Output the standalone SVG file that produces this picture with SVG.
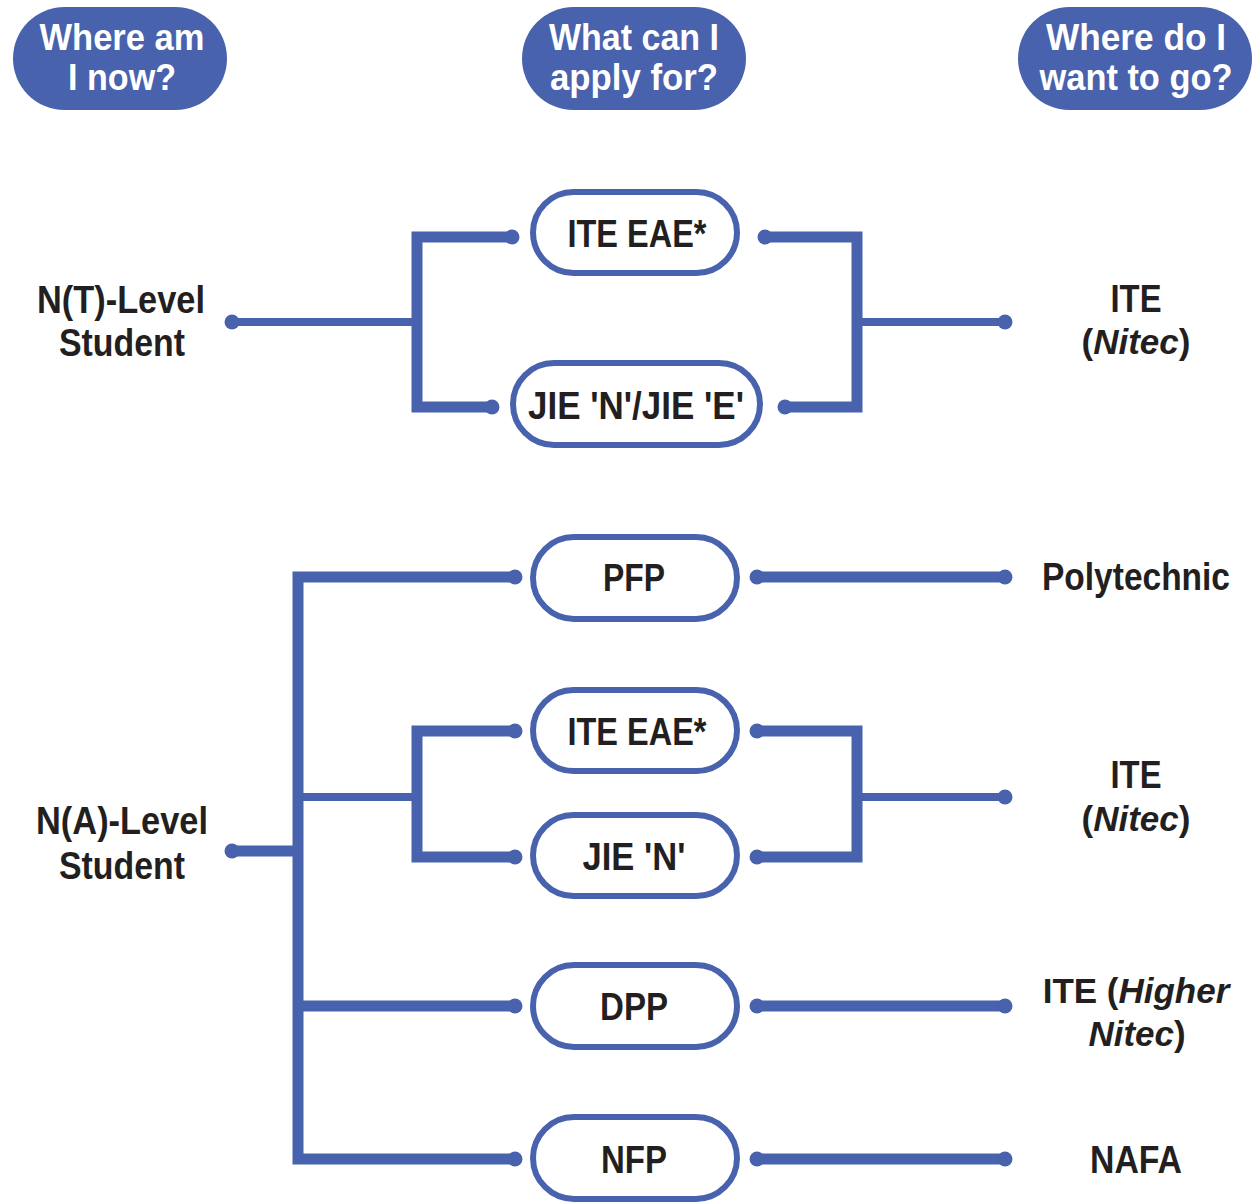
<svg xmlns="http://www.w3.org/2000/svg" width="1257" height="1202" viewBox="0 0 1257 1202">
<style>
.hdr{fill:#4862ad}
.ht{font-family:"Liberation Sans",Arial,sans-serif;font-weight:bold;font-size:36px;fill:#fff;text-anchor:middle}
.pill{fill:#fff;stroke:#4862ad;stroke-width:6}
.pt{font-family:"Liberation Sans",Arial,sans-serif;font-weight:bold;font-size:38px;fill:#231f20;text-anchor:middle}
.lt{font-family:"Liberation Sans",Arial,sans-serif;font-weight:bold;font-size:38px;fill:#231f20;text-anchor:middle}
.ls{font-family:"Liberation Sans",Arial,sans-serif;font-weight:bold;font-size:35px;fill:#231f20;text-anchor:middle}
.it{font-style:italic}
.br{fill:none;stroke:#4862ad;stroke-width:11;stroke-linejoin:miter;stroke-linecap:butt}
.th{fill:none;stroke:#4862ad;stroke-width:8;stroke-linecap:butt}
.dot{fill:#4862ad}
</style>
<rect width="1257" height="1202" fill="#fff"/>

<g id="headers">
<g id="h1"><rect class="hdr" x="13" y="7" width="214" height="103" rx="51.5"/>
<text class="ht" x="122" y="50" textLength="165" lengthAdjust="spacingAndGlyphs">Where am</text>
<text class="ht" x="122" y="90" textLength="108" lengthAdjust="spacingAndGlyphs">I now?</text></g>
<g id="h2"><rect class="hdr" x="522" y="7" width="224" height="103" rx="51.5"/>
<text class="ht" x="634" y="50" textLength="170" lengthAdjust="spacingAndGlyphs">What can I</text>
<text class="ht" x="634" y="90" textLength="168" lengthAdjust="spacingAndGlyphs">apply for?</text></g>
<g id="h3"><rect class="hdr" x="1018" y="7" width="234" height="103" rx="51.5"/>
<text class="ht" x="1136" y="50" textLength="180" lengthAdjust="spacingAndGlyphs">Where do I</text>
<text class="ht" x="1136" y="90" textLength="193" lengthAdjust="spacingAndGlyphs">want to go?</text></g>
</g>

<g id="connectors">
<line class="th" x1="232" y1="322" x2="417" y2="322"/>
<path class="br" d="M512,237 H417 V407 H492"/>
<path class="br" d="M765,237 H857 V407 H785"/>
<line class="th" x1="857" y1="322" x2="1005" y2="322"/>

<line class="br" x1="232" y1="851" x2="298" y2="851"/>
<path class="br" d="M515,577 H298 V1159 H515"/>
<line class="br" x1="298" y1="1006" x2="515" y2="1006"/>
<line class="th" x1="298" y1="797" x2="417" y2="797"/>
<path class="br" d="M515,731 H417 V857 H515"/>
<line class="br" x1="757" y1="577" x2="1005" y2="577"/>
<path class="br" d="M757,731 H857 V857 H757"/>
<line class="th" x1="857" y1="797" x2="1005" y2="797"/>
<line class="br" x1="757" y1="1006" x2="1005" y2="1006"/>
<line class="br" x1="757" y1="1159" x2="1005" y2="1159"/>

<g class="dot">
<circle cx="232" cy="322" r="7.5"/><circle cx="512" cy="237" r="7.5"/><circle cx="492" cy="407" r="7.5"/>
<circle cx="765" cy="237" r="7.5"/><circle cx="785" cy="407" r="7.5"/><circle cx="1005" cy="322" r="7.5"/>
<circle cx="232" cy="851" r="7.5"/>
<circle cx="515" cy="577" r="7.5"/><circle cx="515" cy="731" r="7.5"/><circle cx="515" cy="857" r="7.5"/><circle cx="515" cy="1006" r="7.5"/><circle cx="515" cy="1159" r="7.5"/>
<circle cx="757" cy="577" r="7.5"/><circle cx="757" cy="731" r="7.5"/><circle cx="757" cy="857" r="7.5"/><circle cx="757" cy="1006" r="7.5"/><circle cx="757" cy="1159" r="7.5"/>
<circle cx="1005" cy="577" r="7.5"/><circle cx="1005" cy="797" r="7.5"/><circle cx="1005" cy="1006" r="7.5"/><circle cx="1005" cy="1159" r="7.5"/>
</g>
</g>

<g id="nt-student"><text class="lt" x="121" y="313" textLength="168" lengthAdjust="spacingAndGlyphs">N(T)-Level</text>
<text class="lt" x="122" y="356" textLength="126" lengthAdjust="spacingAndGlyphs">Student</text></g>

<g id="na-student"><text class="lt" x="122" y="834" textLength="172" lengthAdjust="spacingAndGlyphs">N(A)-Level</text>
<text class="lt" x="122" y="879" textLength="126" lengthAdjust="spacingAndGlyphs">Student</text></g>

<g id="ite-eae-1"><rect class="pill" x="533" y="192" width="204" height="81" rx="40.5"/>
<text class="pt" x="637" y="247" textLength="139" lengthAdjust="spacingAndGlyphs">ITE EAE*</text></g>
<g id="jie-ne"><rect class="pill" x="513" y="363" width="247" height="82" rx="41"/>
<text class="pt" x="636" y="419" textLength="216" lengthAdjust="spacingAndGlyphs">JIE 'N'/JIE 'E'</text></g>
<g id="pfp"><rect class="pill" x="533" y="537" width="204" height="82" rx="41"/>
<text class="pt" x="634" y="591" textLength="62" lengthAdjust="spacingAndGlyphs">PFP</text></g>
<g id="ite-eae-2"><rect class="pill" x="533" y="690" width="204" height="81" rx="40.5"/>
<text class="pt" x="637" y="745" textLength="139" lengthAdjust="spacingAndGlyphs">ITE EAE*</text></g>
<g id="jie-n"><rect class="pill" x="533" y="815" width="204" height="81" rx="40.5"/>
<text class="pt" x="634" y="870" textLength="103" lengthAdjust="spacingAndGlyphs">JIE 'N'</text></g>
<g id="dpp"><rect class="pill" x="533" y="965" width="204" height="82" rx="41"/>
<text class="pt" x="634" y="1020" textLength="68" lengthAdjust="spacingAndGlyphs">DPP</text></g>
<g id="nfp"><rect class="pill" x="533" y="1117" width="204" height="82" rx="41"/>
<text class="pt" x="634" y="1173" textLength="66" lengthAdjust="spacingAndGlyphs">NFP</text></g>

<g id="ite-nitec-1"><text class="lt" x="1136" y="312" textLength="51" lengthAdjust="spacingAndGlyphs">ITE</text>
<text class="ls" x="1136" y="354">(<tspan class="it">Nitec</tspan>)</text></g>
<g id="polytechnic"><text class="lt" x="1136" y="590" textLength="188" lengthAdjust="spacingAndGlyphs">Polytechnic</text></g>
<g id="ite-nitec-2"><text class="lt" x="1136" y="788" textLength="51" lengthAdjust="spacingAndGlyphs">ITE</text>
<text class="ls" x="1136" y="831">(<tspan class="it">Nitec</tspan>)</text></g>
<g id="ite-higher-nitec"><text class="ls" x="1136" y="1003">ITE (<tspan class="it">Higher</tspan></text>
<text class="ls" x="1137" y="1046"><tspan class="it">Nitec</tspan>)</text></g>
<g id="nafa"><text class="lt" x="1136" y="1173" textLength="92" lengthAdjust="spacingAndGlyphs">NAFA</text></g>
</svg>
